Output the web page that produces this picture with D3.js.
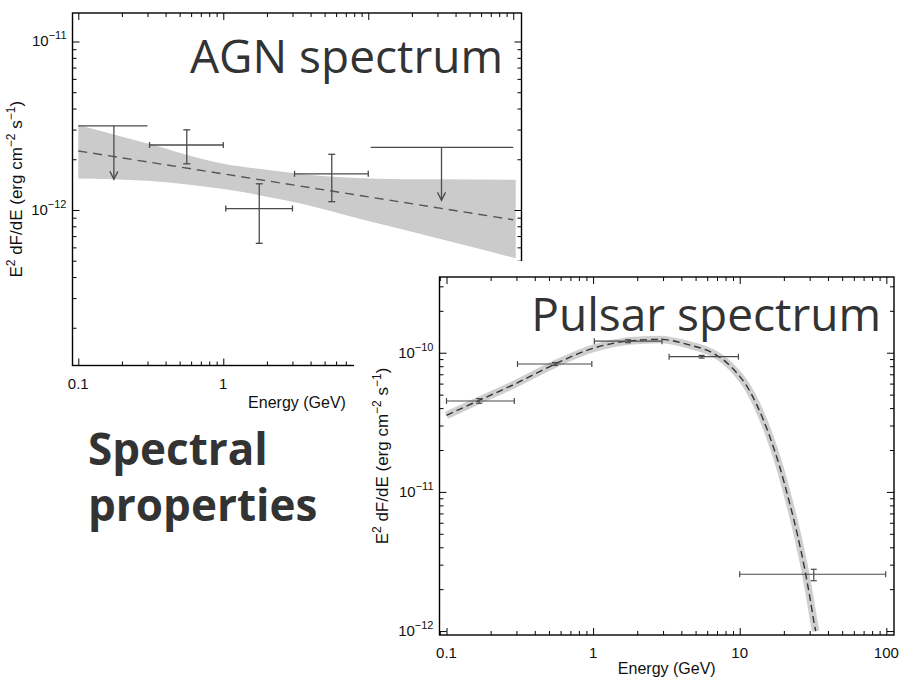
<!DOCTYPE html>
<html>
<head>
<meta charset="utf-8">
<script src="https://cdn.jsdelivr.net/npm/d3@7"></script>
<style>
  body { margin: 0; background: #fff; }
  svg { display: block; }
</style>
</head>
<body>
<svg id="chart" width="903" height="680"></svg>
<script>
// ---------- AGN: binned spectrum, power-law fit and its bowtie ----------
const agnBinLo   = [0.1, 0.31, 1.04, 3.1, 10.4];
const agnBinHi   = [0.3, 1.0, 3.0, 10, 100];
const agnE       = [0.176, 0.56, 1.77, 5.6, 32];
const agnF       = [3.16e-12, 2.43e-12, 1.02e-12, 1.64e-12, 2.35e-12];
const agnFLo     = [null, 1.88e-12, 6.34e-13, 1.12e-12, null];
const agnFHi     = [null, 2.99e-12, 1.43e-12, 2.14e-12, null];
const agnIsUL    = [true, false, false, false, true];
const agnArrowTo = [1.52e-12, null, null, null, 1.14e-12];

const agnFitE = [0.1, 100];
const agnFitF = [2.24e-12, 8.75e-13];

const agnBandE  = [0.1, 0.3, 1, 2, 3.3, 10, 30, 104];
const agnBandHi = [3.19e-12, 2.48e-12, 1.88e-12, 1.73e-12, 1.64e-12, 1.54e-12, 1.52e-12, 1.51e-12];
const agnBandLo = [1.54e-12, 1.49e-12, 1.33e-12, 1.20e-12, 1.10e-12, 8.6e-13, 6.8e-13, 5.17e-13];

// ---------- Pulsar: binned spectrum and cut-off power-law fit ----------
const psrBinLo = [0.1, 0.305, 1.02, 3.3, 10];
const psrBinHi = [0.29, 0.98, 2.95, 9.8, 99];
const psrE     = [0.167, 0.55, 1.73, 5.5, 32];
const psrF     = [4.5e-11, 8.3e-11, 1.21e-10, 9.36e-11, 2.56e-12];
const psrFLo   = [4.33e-11, 8.1e-11, 1.18e-10, 9.15e-11, 2.30e-12];
const psrFHi   = [4.68e-11, 8.5e-11, 1.24e-10, 9.57e-11, 2.78e-12];

const psrFitE = [0.1, 0.165, 0.3, 0.55, 1.0, 1.74, 2.85, 4.57, 6.6, 7.94, 9.0, 10, 11.1, 13.0, 16.0, 18.75, 21.9, 24.9, 27.7, 30.0, 32.4, 33.0];
const psrFitF = [3.55e-11, 4.52e-11, 6.03e-11, 8.3e-11, 1.076e-10, 1.213e-10, 1.247e-10, 1.135e-10, 9.9e-11, 8.7e-11, 7.67e-11,
                 6.76e-11, 5.82e-11, 4.27e-11, 2.51e-11, 1.51e-11, 8.3e-12, 4.79e-12, 2.82e-12, 1.78e-12, 1.10e-12, 1.0e-12];

// ---------- axis ticks and labels ----------
const xTickValues = [0.1, 1, 10, 100];
const xTickLabels = ["0.1", "1", "10", "100"];
const agnYTickExp = [-11, -12];
const psrYTickExp = [-10, -11, -12];

const xTitle = "Energy (GeV)";

// ---------------------------------------------------------------------
const svg = d3.select("#chart");
const AXIS_FONT = "'Liberation Sans', Arial, Helvetica, sans-serif";
const TITLE_FONT = "'Open Sans', 'Noto Sans', sans-serif";
const INK = "#000";
const DATA_INK = "#4a4a4a";

function minorTicks(domain) {
  const out = [];
  const k0 = Math.floor(Math.log10(domain[0])), k1 = Math.ceil(Math.log10(domain[1]));
  for (let k = k0; k <= k1; k++) {
    for (let m = 2; m <= 9; m++) {
      const v = m * Math.pow(10, k);
      if (v > domain[0] && v < domain[1]) out.push(v);
    }
  }
  return out;
}

function makePanel(o) {
  const g = svg.append("g");
  const x = d3.scaleLog().domain(o.xDomain).range([o.left, o.right]);
  const y = d3.scaleLog().domain(o.yDomain).range([o.bottom, o.top]);
  const yMajor = o.yExp.map(e => Math.pow(10, e));
  const xMajor = xTickValues.filter(v => v >= o.xDomain[0] && v <= o.xDomain[1]);

  const layers = { back: g.append("g"), data: g.append("g"), axes: g.append("g") };

  // ticks point inward on all four sides
  const sides = [
    { axis: d3.axisBottom, scale: x, tr: `translate(0,${o.bottom})`, major: xMajor, minor: minorTicks(o.xDomain) },
    { axis: d3.axisTop,    scale: x, tr: `translate(0,${o.top})`,    major: xMajor, minor: minorTicks(o.xDomain) },
    { axis: d3.axisLeft,   scale: y, tr: `translate(${o.left},0)`,   major: yMajor, minor: minorTicks(o.yDomain) },
    { axis: d3.axisRight,  scale: y, tr: `translate(${o.right},0)`,  major: yMajor, minor: minorTicks(o.yDomain) }
  ];
  sides.forEach(s => {
    [[s.major, -7], [s.minor, -4]].forEach(([vals, len]) => {
      const ax = layers.axes.append("g").attr("transform", s.tr)
        .call(s.axis(s.scale).tickValues(vals).tickSize(len).tickSizeOuter(0).tickFormat(""));
      ax.select(".domain").remove();
      ax.selectAll("line").attr("stroke", INK).attr("stroke-width", 1);
    });
  });

  layers.axes.append("rect")
    .attr("x", o.left).attr("y", o.top)
    .attr("width", o.right - o.left).attr("height", o.bottom - o.top)
    .attr("fill", "none").attr("stroke", INK).attr("stroke-width", 1.4);

  // x tick labels
  xTickValues.forEach((v, i) => {
    if (v < o.xDomain[0] || v > o.xDomain[1]) return;
    layers.axes.append("text")
      .attr("x", x(v)).attr("y", o.bottom + 23)
      .attr("text-anchor", "middle")
      .attr("font-family", AXIS_FONT).attr("font-size", 15).attr("fill", "#111")
      .text(xTickLabels[i]);
  });

  // y tick labels as powers of ten
  o.yExp.forEach(e => {
    const t = layers.axes.append("text")
      .attr("x", o.left - 6).attr("y", y(Math.pow(10, e)) + 5)
      .attr("text-anchor", "end")
      .attr("font-family", AXIS_FONT).attr("font-size", 15).attr("fill", "#111");
    t.append("tspan").text("10");
    t.append("tspan").attr("dy", -7).attr("font-size", 11).text("\u2212" + Math.abs(e));
  });

  // axis titles
  layers.axes.append("text")
    .attr("x", (o.left + o.right) / 2).attr("y", o.bottom + o.xTitleDy)
    .attr("text-anchor", "middle")
    .attr("font-family", AXIS_FONT).attr("font-size", 16).attr("fill", "#111")
    .text(xTitle);

  const yt = layers.axes.append("text")
    .attr("transform", `translate(${o.yTitleX},${(o.top + o.bottom) / 2}) rotate(-90)`)
    .attr("text-anchor", "middle")
    .attr("font-family", AXIS_FONT).attr("font-size", 17).attr("fill", "#111");
  yt.append("tspan").text("E");
  yt.append("tspan").attr("dy", -7).attr("font-size", 12).text("2");
  yt.append("tspan").attr("dy", 7).text(" dF/dE (erg cm");
  yt.append("tspan").attr("dy", -7).attr("font-size", 12).text("\u22122");
  yt.append("tspan").attr("dy", 7).text(" s");
  yt.append("tspan").attr("dy", -7).attr("font-size", 12).text("\u22121");
  yt.append("tspan").attr("dy", 7).text(")");

  return { g, x, y, layers };
}

function line(layer, x1, y1, x2, y2, w) {
  layer.append("line")
    .attr("x1", x1).attr("y1", y1).attr("x2", x2).attr("y2", y2)
    .attr("stroke", DATA_INK).attr("stroke-width", w || 1.3);
}

// ===================== AGN panel =====================
const agn = makePanel({
  left: 72.5, right: 521.5, top: 13, bottom: 365.5,
  xDomain: [0.0912, 114], yDomain: [1.194e-13, 1.476e-11],
  yExp: agnYTickExp, yTitleX: 22, xTitleDy: 42
});

agn.layers.back.append("path")
  .datum(agnBandE.map((e, i) => ({ e, lo: agnBandLo[i], hi: agnBandHi[i] })))
  .attr("fill", "#cbcbcb")
  .attr("d", d3.area()
    .x(d => agn.x(d.e)).y0(d => agn.y(d.lo)).y1(d => agn.y(d.hi))
    .curve(d3.curveMonotoneX));

agn.layers.back.append("path")
  .datum(agnFitE.map((e, i) => [e, agnFitF[i]]))
  .attr("fill", "none").attr("stroke", "#555").attr("stroke-width", 1.4)
  .attr("stroke-dasharray", "9,6")
  .attr("d", d3.line().x(d => agn.x(d[0])).y(d => agn.y(d[1])));

agnE.forEach((e, i) => {
  const L = agn.layers.data;
  const cy = agn.y(agnF[i]);
  const xl = agn.x(agnBinLo[i]), xr = agn.x(agnBinHi[i]), cx = agn.x(e);
  line(L, xl, cy, xr, cy);
  if (agnIsUL[i]) {
    const tip = agn.y(agnArrowTo[i]);
    line(L, cx, cy, cx, tip);
    L.append("path")
      .attr("d", `M${cx - 4},${tip - 8}L${cx},${tip}L${cx + 4},${tip - 8}`)
      .attr("fill", "none").attr("stroke", DATA_INK).attr("stroke-width", 1.3);
  } else {
    line(L, xl, cy - 3, xl, cy + 3);
    line(L, xr, cy - 3, xr, cy + 3);
    const yt = agn.y(agnFHi[i]), yb = agn.y(agnFLo[i]);
    line(L, cx, yt, cx, yb);
    line(L, cx - 3.5, yt, cx + 3.5, yt);
    line(L, cx - 3.5, yb, cx + 3.5, yb);
  }
});

// ===================== Pulsar panel (sits over the AGN one) =====================
svg.append("rect").attr("x", 354).attr("y", 261).attr("width", 903 - 354).attr("height", 680 - 261).attr("fill", "#fff");

const psr = makePanel({
  left: 439.5, right: 894, top: 277, bottom: 635,
  xDomain: [0.0896, 112.8], yDomain: [9.37e-13, 3.5e-10],
  yExp: psrYTickExp, yTitleX: 388, xTitleDy: 39
});

const psrLine = d3.line().x(d => psr.x(d[0])).y(d => psr.y(d[1])).curve(d3.curveMonotoneX);
const psrFit = psrFitE.map((e, i) => [e, psrFitF[i]]);

psr.layers.back.append("path").datum(psrFit)
  .attr("fill", "none").attr("stroke", "#cfcfcf").attr("stroke-width", 7.5)
  .attr("d", psrLine);
psr.layers.back.append("path").datum(psrFit)
  .attr("fill", "none").attr("stroke", "#333").attr("stroke-width", 1.4)
  .attr("stroke-dasharray", "7,4")
  .attr("d", psrLine);

psrE.forEach((e, i) => {
  const L = psr.layers.data;
  const cy = psr.y(psrF[i]);
  const xl = psr.x(psrBinLo[i]), xr = psr.x(psrBinHi[i]), cx = psr.x(e);
  line(L, xl, cy, xr, cy, 1.2);
  line(L, xl, cy - 3, xl, cy + 3, 1.2);
  line(L, xr, cy - 3, xr, cy + 3, 1.2);
  const yt = psr.y(psrFHi[i]), yb = psr.y(psrFLo[i]);
  line(L, cx, yt, cx, yb, 1.2);
  line(L, cx - 3, yt, cx + 3, yt, 1.2);
  line(L, cx - 3, yb, cx + 3, yb, 1.2);
});

// ===================== slide captions =====================
svg.append("text")
  .attr("x", 503).attr("y", 73).attr("text-anchor", "end")
  .attr("font-family", TITLE_FONT).attr("font-size", 46).attr("fill", "#333")
  .text("AGN spectrum");

svg.append("text")
  .attr("x", 881).attr("y", 331).attr("text-anchor", "end")
  .attr("font-family", TITLE_FONT).attr("font-size", 46).attr("fill", "#333")
  .text("Pulsar spectrum");

const cap = svg.append("text")
  .attr("font-family", TITLE_FONT).attr("font-size", 44).attr("font-weight", 700).attr("fill", "#333");
cap.append("tspan").attr("x", 88).attr("y", 465).text("Spectral");
cap.append("tspan").attr("x", 88).attr("y", 521).text("properties");
</script>
</body>
</html>
